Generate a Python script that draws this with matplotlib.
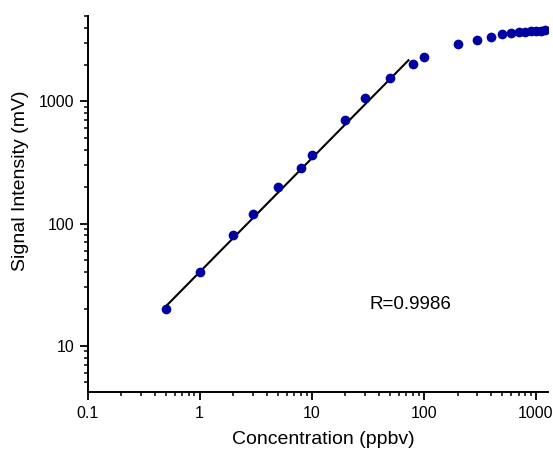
import numpy as np
import matplotlib
matplotlib.use("Agg")
import matplotlib.pyplot as plt
from matplotlib.ticker import LogLocator, FixedLocator, FixedFormatter, NullFormatter

plt.rcParams['font.family'] = ['Liberation Sans', 'DejaVu Sans']

# Data
concentration = [0.5, 1, 2, 3, 5, 8, 10, 20, 30, 50, 80, 100,
                 200, 300, 400, 500, 600, 700, 800, 900, 1000, 1100, 1200]
signal = [20, 40, 80, 120, 200, 284, 363, 705, 1060, 1545, 2036, 2312,
          2951, 3206, 3350, 3567, 3637, 3680, 3727, 3750, 3777, 3800, 3822]
fit_x = [0.5, 73]               # linear fit line end points
fit_y = [21, 2170]
r_text = "R=0.9986"
x_ticks = [0.1, 1, 10, 100, 1000]
x_ticklabels = ["0.1", "1", "10", "100", "1000"]
y_ticks = [10, 100, 1000]
y_ticklabels = ["10", "100", "1000"]

fig = plt.figure(figsize=(5.53, 4.5), dpi=100)
ax = fig.add_axes([87.5/553, 1-391.7/450, (548.3-87.5)/553, (391.7-16)/450])

ax.set_xscale('log')
ax.set_yscale('log')

ax.plot(fit_x, fit_y, color='black', lw=1.5, zorder=2)
ax.plot(concentration, signal, 'o', color='#0000a0', markersize=7,
        markeredgewidth=0, zorder=3)

ax.set_xlim(0.1, 1290)
ax.set_ylim(4.2, 5000)

for s in ['top', 'right']:
    ax.spines[s].set_visible(False)
for s in ['left', 'bottom']:
    ax.spines[s].set_linewidth(1.4)

ax.xaxis.set_major_locator(FixedLocator(x_ticks))
ax.xaxis.set_major_formatter(FixedFormatter(x_ticklabels))
ax.yaxis.set_major_locator(FixedLocator(y_ticks))
ax.yaxis.set_major_formatter(FixedFormatter(y_ticklabels))
ax.xaxis.set_minor_locator(LogLocator(base=10, subs=np.arange(2, 10), numticks=20))
ax.yaxis.set_minor_locator(LogLocator(base=10, subs=np.arange(2, 10), numticks=20))
ax.xaxis.set_minor_formatter(NullFormatter())
ax.yaxis.set_minor_formatter(NullFormatter())

ax.tick_params(which='major', direction='out', length=5.5, width=1.3, labelsize=11.5)
ax.tick_params(which='minor', direction='out', length=2.8, width=1.1)
ax.tick_params(axis='x', which='major', pad=5)
ax.tick_params(axis='y', which='major', pad=4)

fig.text(323.5/553, 1-440/450, "Concentration (ppbv)", ha='center', va='center', fontsize=14)
fig.text(21/553, 1-181/450, "Signal Intensity (mV)", ha='center', va='center',
         rotation=90, fontsize=14)
fig.text(410/553, 1-304.5/450, r_text, ha='center', va='center', fontsize=13.5)

fig.savefig("out.png", dpi=100)
